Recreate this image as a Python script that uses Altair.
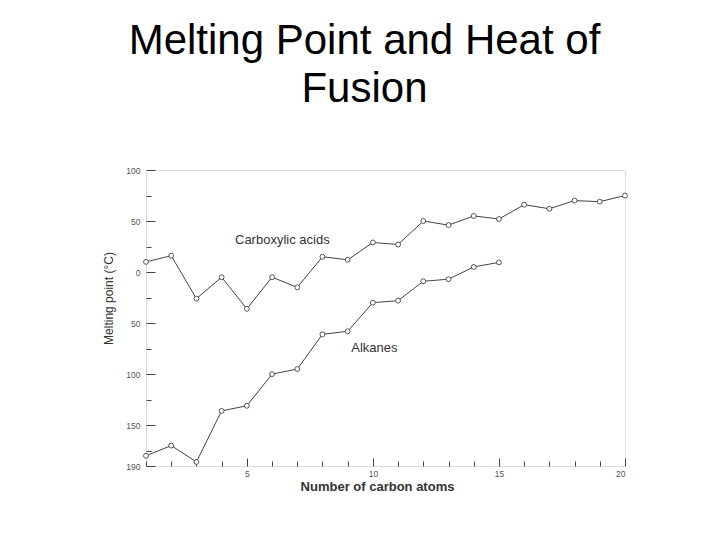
import altair as alt
import pandas as pd

carbons_acid = list(range(1, 21))
acids = [10, 16, -26, -5, -36, -5, -15, 15, 12, 29, 27, 50, 46, 55, 52, 66, 62, 70, 69, 75]
carbons_alk = list(range(1, 16))
alkanes = [-180, -170, -186, -136, -131, -100, -95, -61, -58, -30, -28, -9, -7, 5, 9.5]

label_text = ["Carboxylic acids", "Alkanes"]
label_x = [4.53, 9.14]
label_y = [31, -74.5]

x_ticks = list(range(1, 21))
x_labels = [5, 10, 15, 20]
y_ticks = [100, 75, 50, 25, 0, -25, -50, -75, -100, -125, -150, -175, -190]
y_labels = [100, 50, 0, -50, -100, -150, -190]

df = pd.concat([
    pd.DataFrame({"n": carbons_acid, "mp": acids, "series": "Carboxylic acids"}),
    pd.DataFrame({"n": carbons_alk, "mp": alkanes, "series": "Alkanes"}),
])
labels = pd.DataFrame({"text": label_text, "n": label_x, "mp": label_y})

FONT = "Liberation Sans"
INK = "#444444"

xscale = alt.Scale(domain=[1, 20], nice=False, zero=False)
yscale = alt.Scale(domain=[-190, 100], nice=False, zero=False)

x_main = alt.X("n:Q", scale=xscale, axis=alt.Axis(
    values=x_labels, ticks=False, tickSize=0, domain=False, grid=False,
    labelFont=FONT, labelFontSize=8.5, labelColor="#555555", labelPadding=3,
    title="Number of carbon atoms", titleFont=FONT, titleFontSize=13,
    titleFontWeight="bold", titleColor="#333333", titlePadding=3, titleX=231))
y_main = alt.Y("mp:Q", scale=yscale, axis=alt.Axis(
    values=y_labels, ticks=False, tickSize=0, domain=False, grid=False,
    labelExpr="format(abs(datum.value), 'd')",
    labelFont=FONT, labelFontSize=8.5, labelColor="#555555", labelPadding=6,
    title="Melting point (°C)", titleFont=FONT, titleFontSize=12,
    titleFontWeight="normal", titleColor="#333333", titlePadding=10, titleY=128))

lines = alt.Chart(df).mark_line(color=INK, strokeWidth=1).encode(
    x=x_main, y=y_main, detail="series:N")
points = alt.Chart(df).mark_point(shape="circle", size=24, filled=False,
                                  fill="white", fillOpacity=1, stroke=INK,
                                  strokeWidth=0.9, opacity=1).encode(
    x="n:Q", y="mp:Q")
texts = alt.Chart(labels).mark_text(align="left", baseline="middle", font=FONT,
                                    fontSize=13, color="#333333").encode(
    x="n:Q", y="mp:Q", text="text:N")

base = alt.layer(lines, points, texts)

ticks_layer = alt.Chart(df).mark_point(opacity=0).encode(
    x=alt.X("n:Q", scale=xscale, axis=alt.Axis(
        orient="top", offset=-296, values=x_ticks, labels=False, domain=False,
        grid=False, title=None, tickColor=INK, tickWidth=1,
        tickSize={"condition": {"test": "datum.value % 5 == 0", "value": 8}, "value": 5})),
    y=alt.Y("mp:Q", scale=yscale, axis=alt.Axis(
        orient="right", offset=-479, values=y_ticks, labels=False, domain=False,
        grid=False, title=None, tickColor=INK, tickWidth=1,
        tickSize={"condition": {"test": "datum.value % 50 == 0 || datum.value == -190", "value": 9}, "value": 5})),
)

chart = alt.layer(base, ticks_layer).resolve_axis(
    x="independent", y="independent"
).properties(
    width=479, height=296,
    autosize=alt.AutoSizeParams(type="none"),
    padding={"left": 138, "top": 162, "right": 87, "bottom": 66},
    title=alt.TitleParams(
        text=["Melting Point and Heat of", "Fusion"], font=FONT, fontSize=42,
        fontWeight="normal", color="black", anchor="middle", frame="group",
        dx=-21, offset=55, lineHeight=48),
).configure_view(stroke="#555555", strokeWidth=1).configure(background="white")

chart.save("out.html", embed_options={"renderer": "svg", "actions": False})
